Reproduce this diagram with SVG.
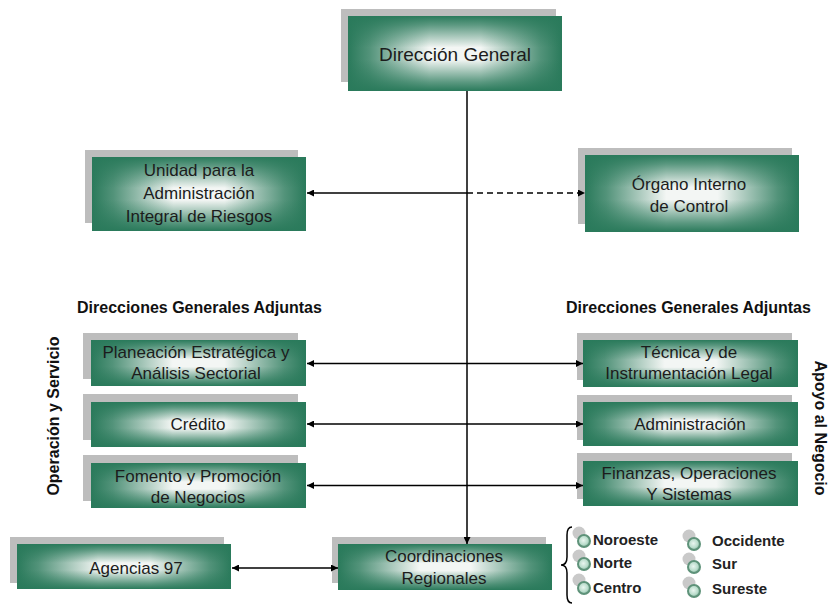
<svg xmlns="http://www.w3.org/2000/svg" xmlns:xlink="http://www.w3.org/1999/xlink" width="828" height="605" viewBox="0 0 828 605">
<defs>
  <linearGradient id="gh" x1="0" y1="0" x2="1" y2="0">
    <stop offset="0" stop-color="#2a7a5b" stop-opacity="1"/>
    <stop offset="0.1" stop-color="#2a7a5b" stop-opacity="0.8"/>
    <stop offset="0.38" stop-color="#2a7a5b" stop-opacity="0"/>
    <stop offset="0.62" stop-color="#2a7a5b" stop-opacity="0"/>
    <stop offset="0.9" stop-color="#2a7a5b" stop-opacity="0.8"/>
    <stop offset="1" stop-color="#2a7a5b" stop-opacity="1"/>
  </linearGradient>
  <linearGradient id="gv" x1="0" y1="0" x2="0" y2="1">
    <stop offset="0" stop-color="#2a7a5b" stop-opacity="1"/>
    <stop offset="0.12" stop-color="#2a7a5b" stop-opacity="0.75"/>
    <stop offset="0.42" stop-color="#2a7a5b" stop-opacity="0"/>
    <stop offset="0.58" stop-color="#2a7a5b" stop-opacity="0"/>
    <stop offset="0.88" stop-color="#2a7a5b" stop-opacity="0.75"/>
    <stop offset="1" stop-color="#2a7a5b" stop-opacity="1"/>
  </linearGradient>
  <radialGradient id="bg" cx="0.45" cy="0.45" r="0.6">
    <stop offset="0" stop-color="#eaf6f0"/>
    <stop offset="0.6" stop-color="#b9dccb"/>
    <stop offset="1" stop-color="#6ea58b"/>
  </radialGradient>
  <symbol id="box" viewBox="0 0 100 100" preserveAspectRatio="none">
    <rect x="0" y="0" width="100" height="100" fill="#f3f6f4"/>
    <rect x="0" y="0" width="100" height="100" fill="url(#gh)"/>
    <rect x="0" y="0" width="100" height="100" fill="url(#gv)"/>
  </symbol>
  <g id="bul">
    <circle cx="-5" cy="-8" r="6.5" fill="#c9c9c9"/>
    <circle cx="0" cy="0" r="6" fill="url(#bg)" stroke="#5e9279" stroke-width="2"/>
  </g>
  <marker id="ah" viewBox="0 0 10 10" refX="10" refY="5" markerWidth="8" markerHeight="7" markerUnits="userSpaceOnUse" orient="auto-start-reverse">
    <path d="M0 0 L10 5 L0 10 Z" fill="#000"/>
  </marker>
</defs>
<style>
  .sh { fill: #bdbdbd; }
  .t { font-family: "Liberation Sans", Arial, sans-serif; font-size: 17px; fill: #1c1c1c; text-anchor: middle; }
  .h { font-family: "Liberation Sans", Arial, sans-serif; font-size: 16px; font-weight: bold; fill: #111; }
  .b { font-family: "Liberation Sans", Arial, sans-serif; font-size: 15px; font-weight: bold; fill: #222; }
  .c { stroke: #000; stroke-width: 1.5; fill: none; }
</style>
<rect width="828" height="605" fill="#ffffff"/>

<g id="direccion-general">
  <rect class="sh" x="341" y="9" width="215" height="73"/>
  <use href="#box" x="348" y="16" width="214" height="75"/>
  <text class="t" x="455" y="61" style="font-size:19px">Dirección General</text>
</g>

<g id="unidad">
  <rect class="sh" x="85" y="150" width="213" height="73"/>
  <use href="#box" x="92" y="157" width="214" height="74"/>
  <text class="t" x="199" y="176">Unidad para la</text>
  <text class="t" x="199" y="199">Administración</text>
  <text class="t" x="199" y="222">Integral de Riesgos</text>
</g>

<g id="organo">
  <rect class="sh" x="578" y="148" width="214" height="76"/>
  <use href="#box" x="585" y="155" width="214" height="77"/>
  <text class="t" x="689" y="190">Órgano Interno</text>
  <text class="t" x="689" y="212">de Control</text>
</g>

<text class="h" x="77" y="313">Direcciones Generales Adjuntas</text>
<text class="h" x="566" y="313">Direcciones Generales Adjuntas</text>
<text class="h" transform="translate(59 416) rotate(-90)" text-anchor="middle">Operación y Servicio</text>
<text class="h" transform="translate(815 428) rotate(90)" text-anchor="middle">Apoyo al Negocio</text>

<g id="planeacion">
  <rect class="sh" x="83" y="333" width="215" height="46"/>
  <use href="#box" x="91" y="340" width="215" height="46"/>
  <text class="t" x="196" y="358">Planeación Estratégica y</text>
  <text class="t" x="196" y="379">Análisis Sectorial</text>
</g>

<g id="credito">
  <rect class="sh" x="83" y="394" width="215" height="46"/>
  <use href="#box" x="91" y="402" width="215" height="45"/>
  <text class="t" x="198" y="430">Crédito</text>
</g>

<g id="fomento">
  <rect class="sh" x="83" y="455" width="215" height="46"/>
  <use href="#box" x="91" y="463" width="215" height="45"/>
  <text class="t" x="198" y="482">Fomento y Promoción</text>
  <text class="t" x="198" y="503">de Negocios</text>
</g>

<g id="tecnica">
  <rect class="sh" x="577" y="333" width="215" height="47"/>
  <use href="#box" x="583" y="340" width="215" height="47"/>
  <text class="t" x="689" y="358">Técnica y de</text>
  <text class="t" x="689" y="379">Instrumentación Legal</text>
</g>

<g id="administracion">
  <rect class="sh" x="577" y="395" width="215" height="45"/>
  <use href="#box" x="583" y="402" width="215" height="44"/>
  <text class="t" x="690" y="430">Administración</text>
</g>

<g id="finanzas">
  <rect class="sh" x="577" y="453" width="215" height="46"/>
  <use href="#box" x="583" y="461" width="215" height="45"/>
  <text class="t" x="689" y="479">Finanzas, Operaciones</text>
  <text class="t" x="689" y="500">Y Sistemas</text>
</g>

<g id="agencias">
  <rect class="sh" x="10" y="537" width="214" height="46"/>
  <use href="#box" x="17" y="544" width="214" height="45"/>
  <text class="t" x="136" y="574">Agencias 97</text>
</g>

<g id="coordinaciones">
  <rect class="sh" x="332" y="537" width="214" height="46"/>
  <use href="#box" x="338" y="544" width="214" height="46"/>
  <text class="t" x="444" y="562">Coordinaciones</text>
  <text class="t" x="444" y="584">Regionales</text>
</g>

<g id="regiones">
  <path class="c" d="M572 527 Q567 527 567 535 L567 557 Q567 565 561 565 Q567 565 567 573 L567 595 Q567 603 572 603"/>
  <use href="#bul" x="584" y="541"/>
  <use href="#bul" x="584" y="564"/>
  <use href="#bul" x="584" y="588"/>
  <use href="#bul" x="694" y="544"/>
  <use href="#bul" x="694" y="567"/>
  <use href="#bul" x="694" y="591"/>
  <text class="b" x="593" y="545">Noroeste</text>
  <text class="b" x="593" y="568">Norte</text>
  <text class="b" x="593" y="593">Centro</text>
  <text class="b" x="712" y="546">Occidente</text>
  <text class="b" x="712" y="569">Sur</text>
  <text class="b" x="712" y="594">Sureste</text>
</g>

<g id="connectors">
  <path class="c" d="M467 91 V544" marker-end="url(#ah)"/>
  <path class="c" d="M467 193 H307" marker-end="url(#ah)"/>
  <path class="c" d="M467 193 H585" stroke-dasharray="6 4" marker-end="url(#ah)"/>
  <path class="c" d="M307 363.5 H583" marker-start="url(#ah)" marker-end="url(#ah)"/>
  <path class="c" d="M307 424 H583" marker-start="url(#ah)" marker-end="url(#ah)"/>
  <path class="c" d="M307 485.5 H583" marker-start="url(#ah)" marker-end="url(#ah)"/>
  <path class="c" d="M232 568 H338" marker-start="url(#ah)" marker-end="url(#ah)"/>
</g>
</svg>
